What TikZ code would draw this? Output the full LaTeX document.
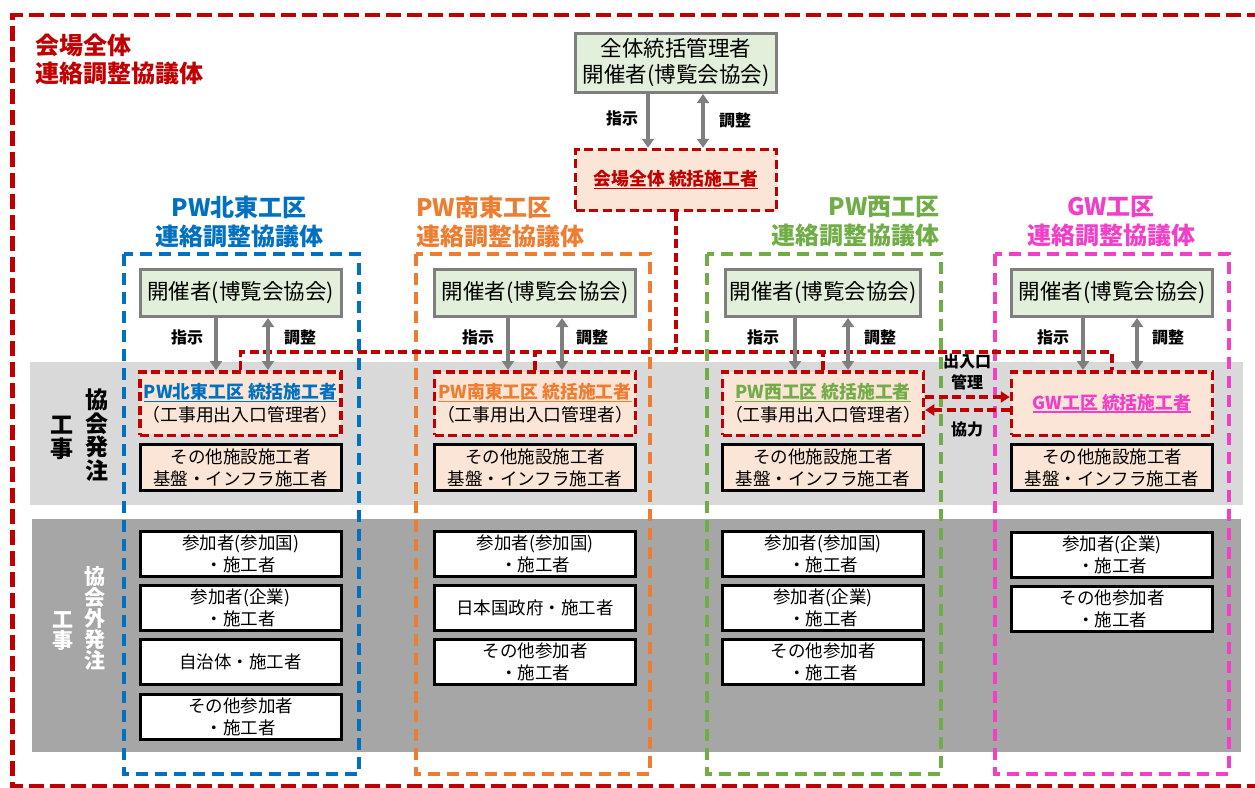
\documentclass[tikz,border=0pt]{standalone}
\usepackage{fontspec}
\setmainfont{Noto Sans CJK JP}
\usetikzlibrary{arrows.meta}

\definecolor{venuered}{HTML}{C00000}
\definecolor{neblue}{HTML}{0070C0}
\definecolor{seorange}{HTML}{ED7D31}
\definecolor{wgreen}{HTML}{70AD47}
\definecolor{gwpink}{HTML}{F23FC8}
\definecolor{hostgreen}{HTML}{E2EFDA}
\definecolor{peach}{HTML}{FBE5D6}
\definecolor{framegray}{HTML}{7F7F7F}
\definecolor{bandlight}{HTML}{D9D9D9}
\definecolor{banddark}{HTML}{A6A6A6}

\newsavebox\undlbox
\newcommand{\undl}[1]{\sbox\undlbox{#1}\rlap{\rule[-3.5pt]{\wd\undlbox}{1.6pt}}\usebox\undlbox}

\tikzset{
  hostbox/.style={draw=framegray, fill=hostgreen, line width=3pt, minimum width=201pt, minimum height=47pt, inner sep=0pt, align=center, font=\fontsize{21.5pt}{26pt}\selectfont},
  leadbox/.style={draw=venuered, fill=peach, line width=3.5pt, dash pattern=on 9pt off 4.5pt, minimum width=201pt, minimum height=63.5pt, inner sep=0pt, align=center, font=\fontsize{17.8pt}{23pt}\selectfont},
  otherbox/.style={draw=black, fill=peach, line width=3pt, minimum width=201pt, minimum height=46pt, inner sep=0pt, align=center, font=\fontsize{17.5pt}{22pt}\selectfont},
  partbox/.style={otherbox, fill=white, minimum height=45pt},
  cmdlabel/.style={inner sep=0pt, align=center, font=\bfseries\fontsize{16pt}{21pt}\selectfont},
  cmdarrow/.style={draw=framegray, line width=3.5pt, >={Triangle[length=9pt,width=12pt]}, ->},
  adjarrow/.style={cmdarrow, <->},
  link/.style={draw=venuered, line width=3.5pt, dash pattern=on 9pt off 4.5pt},
  linkarrow/.style={link, >={Triangle[length=9pt,width=11pt]}, ->},
  zone/.style={line width=4pt, dash pattern=on 12pt off 7pt},
  zonetitle/.style={inner sep=0pt, font=\bfseries\fontsize{24pt}{29pt}\selectfont},
  bandlabel/.style={inner sep=0pt, align=center, font=\bfseries\fontsize{23pt}{23.5pt}\selectfont},
}

\begin{document}
\begin{tikzpicture}[x=1pt, y=-1pt]
    \useasboundingbox (0,0) rectangle (1255,787);

    % bands
    \fill[bandlight] (30,362) rectangle (1243,505);
    \fill[banddark] (32,519) rectangle (1241,752);

    % whole venue
    \draw[venuered, line width=4.5pt, dash pattern=on 15pt off 6pt] (1262,15) -- (12.5,15) -- (12.5,786) -- (1262,786);
    \node[anchor=west, align=left, inner sep=0pt, text=venuered, font=\bfseries\fontsize{24pt}{28pt}\selectfont] (venueTitle) at (35,59) {会場全体\\連絡調整協議体};

    % zones
    \draw[zone, neblue] (124,254) rectangle (359,774);
    \draw[zone, seorange] (416,254) rectangle (650,774);
    \draw[zone, wgreen] (706.5,254) rectangle (940.5,774);
    \draw[zone, gwpink] (995,254) rectangle (1229,774);

    \node[zonetitle, align=center, text=neblue] (neTitle) at (239,221.5) {PW北東工区\\連絡調整協議体};
    \node[zonetitle, align=left, anchor=west, text=seorange] (seTitle) at (416,221.5) {PW南東工区\\連絡調整協議体};
    \node[zonetitle, align=right, anchor=east, text=wgreen] (wTitle) at (940,221.5) {PW西工区\\連絡調整協議体};
    \node[zonetitle, align=center, text=gwpink] (gwTitle) at (1111,221.5) {GW工区\\連絡調整協議体};

    % band labels
    \node[bandlabel] (ownLabelA) at (97,435) {協\\会\\発\\注};
    \node[bandlabel] (ownLabelB) at (62,438) {工\\事};
    \node[bandlabel, text=white, font=\bfseries\fontsize{21pt}{21pt}\selectfont] (extLabelA) at (95,618.5) {協\\会\\外\\発\\注};
    \node[bandlabel, text=white, font=\bfseries\fontsize{21pt}{21pt}\selectfont] (extLabelB) at (63,631.5) {工\\事};

    % top
    \node[hostbox, minimum height=59pt] (topHost) at (676,63) {全体統括管理者\\開催者(博覧会協会)};
    \node[leadbox, minimum height=61pt] (topLead) at (676,180) {{\color{venuered}\bfseries\undl{会場全体 統括施工者}}};

    % PW north-east
    \node[hostbox] (neHost) at (240.5,293) {開催者(博覧会協会)};
    \node[leadbox] (neLead) at (240.5,403.5) {{\color{neblue}\bfseries\undl{PW北東工区 統括施工者}}\\（工事用出入口管理者）};
    \node[otherbox] (neOther) at (240.5,467.5) {その他施設施工者\\基盤・インフラ施工者};
    \node[partbox] (nePartA) at (240.5,554) {参加者(参加国)\\・施工者};
    \node[partbox] (nePartB) at (240.5,608) {参加者(企業)\\・施工者};
    \node[partbox] (nePartC) at (240.5,662) {自治体・施工者};
    \node[partbox] (nePartD) at (240.5,717) {その他参加者\\・施工者};

    % PW south-east
    \node[hostbox] (seHost) at (535,293) {開催者(博覧会協会)};
    \node[leadbox] (seLead) at (535,403.5) {{\color{seorange}\bfseries\undl{PW南東工区 統括施工者}}\\（工事用出入口管理者）};
    \node[otherbox] (seOther) at (535,467.5) {その他施設施工者\\基盤・インフラ施工者};
    \node[partbox] (sePartA) at (535,554) {参加者(参加国)\\・施工者};
    \node[partbox] (sePartB) at (535,608) {日本国政府・施工者};
    \node[partbox] (sePartC) at (535,662) {その他参加者\\・施工者};

    % PW west
    \node[hostbox, minimum width=195pt] (wHost) at (823,293) {開催者(博覧会協会)};
    \node[leadbox] (wLead) at (823,403.5) {{\color{wgreen}\bfseries\undl{PW西工区 統括施工者}}\\（工事用出入口管理者）};
    \node[otherbox] (wOther) at (823,467.5) {その他施設施工者\\基盤・インフラ施工者};
    \node[partbox] (wPartA) at (823,554) {参加者(参加国)\\・施工者};
    \node[partbox] (wPartB) at (823,608) {参加者(企業)\\・施工者};
    \node[partbox] (wPartC) at (823,662) {その他参加者\\・施工者};

    % GW
    \node[hostbox] (gwHost) at (1112,293) {開催者(博覧会協会)};
    \node[leadbox] (gwLead) at (1112,403.5) {{\color{gwpink}\bfseries\undl{GW工区 統括施工者}}};
    \node[otherbox] (gwOther) at (1112,467.5) {その他施設施工者\\基盤・インフラ施工者};
    \node[partbox] (gwPartA) at (1112,555) {参加者(企業)\\・施工者};
    \node[partbox] (gwPartB) at (1112,609) {その他参加者\\・施工者};

    % links between the lead builders
    \coordinate (hub) at (676,352);
    \draw[link] (topLead.south) -- (hub);
    \draw[link] (neLead.north) |- (hub) -| (gwLead.north);
    \draw[link] (seLead.north) -- (seLead.north |- hub);
    \draw[link] (wLead.north) -- (wLead.north |- hub);
    \draw[linkarrow] ([yshift=6.5pt]wLead.east) -- ([yshift=6.5pt]gwLead.west);
    \draw[linkarrow] ([yshift=-6.5pt]gwLead.west) -- ([yshift=-6.5pt]wLead.east);
    \node[cmdlabel] (gateLabel) at (967,372) {出入口\\管理};
    \node[cmdlabel] (coopLabel) at (967,429) {協力};

    % orders and adjustment
    \draw[cmdarrow] ([xshift=-28pt]topHost.south) -- ([xshift=-28pt]topLead.north);
    \draw[adjarrow] ([xshift=27pt]topHost.south) -- ([xshift=27pt]topLead.north);
    \node[cmdlabel] (topCmd) at (622,118) {指示};
    \node[cmdlabel] (topAdj) at (735,120) {調整};

    \draw[cmdarrow] ([xshift=-24.5pt]neHost.south) -- ([xshift=-24.5pt]neLead.north);
    \draw[adjarrow] ([xshift=27.5pt]neHost.south) -- ([xshift=27.5pt]neLead.north);
    \node[cmdlabel] (neCmd) at (187,337) {指示};
    \node[cmdlabel] (neAdj) at (300,337) {調整};

    \draw[cmdarrow] ([xshift=-27pt]seHost.south) -- ([xshift=-27pt]seLead.north);
    \draw[adjarrow] ([xshift=27pt]seHost.south) -- ([xshift=27pt]seLead.north);
    \node[cmdlabel] (seCmd) at (478,337) {指示};
    \node[cmdlabel] (seAdj) at (592,337) {調整};

    \draw[cmdarrow] ([xshift=-28pt]wHost.south) -- ([xshift=-28pt]wLead.north);
    \draw[adjarrow] ([xshift=25pt]wHost.south) -- ([xshift=25pt]wLead.north);
    \node[cmdlabel] (wCmd) at (763,337) {指示};
    \node[cmdlabel] (wAdj) at (880,337) {調整};

    \draw[cmdarrow] ([xshift=-29pt]gwHost.south) -- ([xshift=-29pt]gwLead.north);
    \draw[adjarrow] ([xshift=25pt]gwHost.south) -- ([xshift=25pt]gwLead.north);
    \node[cmdlabel] (gwCmd) at (1053,337) {指示};
    \node[cmdlabel] (gwAdj) at (1168,337) {調整};
\end{tikzpicture}
\end{document}
